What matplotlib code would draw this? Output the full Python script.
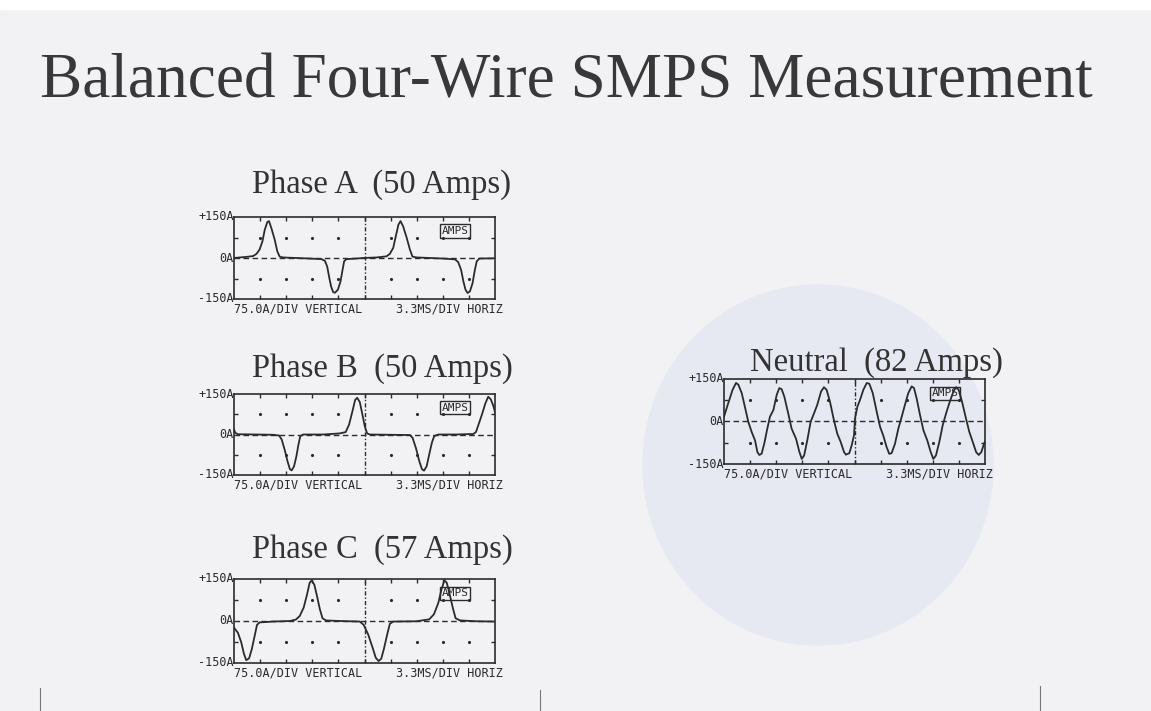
import matplotlib.pyplot as plt
from matplotlib.patches import Ellipse, Rectangle

W, H = 1151, 711

# time in scope divisions (3.3 ms/div), current in amps
t_a = [0.0, 0.22, 0.47, 0.73, 0.86, 0.98, 1.09, 1.18, 1.28, 1.34, 1.43, 1.56, 1.66, 1.75, 1.88,
       2.39, 2.9, 3.35, 3.48, 3.57, 3.64, 3.72, 3.8, 3.87, 3.98, 4.08, 4.16, 4.22, 4.31, 4.69,
       4.95, 5.46, 5.84, 5.97, 6.1, 6.2, 6.3, 6.38, 6.48, 6.61, 6.74, 6.84, 7.0, 7.51, 8.02,
       8.47, 8.59, 8.7, 8.79, 8.87, 8.95, 9.04, 9.14, 9.23, 9.3, 9.4, 10.0]
i_a = [0, 2, 4, 7, 15, 31, 61, 104, 132, 135, 110, 67, 24, 5, 2,
       0, -2, -4, -10, -31, -67, -104, -125, -127, -116, -86, -43, -12, -4, -2,
       0, 2, 6, 15, 37, 80, 122, 135, 116, 76, 31, 5, 2, 0, -2,
       -5, -15, -43, -86, -116, -128, -122, -92, -43, -12, -2, -1]

t_b = [0.0, 0.05, 0.15, 0.86, 1.5, 1.73, 1.83, 1.94, 2.05, 2.14, 2.21, 2.3, 2.39, 2.47, 2.54,
       2.65, 3.41, 4.05, 4.28, 4.41, 4.54, 4.64, 4.72, 4.82, 4.92, 5.01, 5.1, 5.2, 5.97, 6.74,
       6.84, 6.97, 7.1, 7.2, 7.28, 7.38, 7.48, 7.58, 7.67, 7.83, 8.53, 9.17, 9.27, 9.37, 9.5,
       9.63, 9.74, 9.84, 9.94, 10.0]
i_b = [19, 6, 1, 0, -1, -4, -19, -56, -99, -128, -133, -118, -81, -37, -6,
       0, 0, 4, 9, 37, 87, 128, 136, 120, 74, 31, 4, 0, -1, -2,
       -12, -50, -99, -128, -134, -118, -74, -31, -6, 0, 0, 2, 9, 37, 74,
       115, 140, 130, 105, 83]

t_c = [0.0, 0.15, 0.28, 0.38, 0.47, 0.58, 0.68, 0.79, 0.88, 0.98, 1.5, 2.14, 2.37, 2.52, 2.67,
       2.8, 2.9, 2.98, 3.08, 3.18, 3.29, 3.39, 3.52, 4.05, 4.82, 4.97, 5.14, 5.31, 5.43, 5.54,
       5.64, 5.74, 5.87, 5.97, 6.1, 6.99, 7.48, 7.66, 7.83, 7.95, 8.06, 8.15, 8.25, 8.38, 8.49,
       8.66, 9.3, 10.0]
i_c = [-24, -42, -77, -117, -140, -133, -101, -54, -14, -5, -2, 0, 5, 18, 48,
       95, 137, 145, 129, 89, 42, 10, 2, 0, -2, -14, -48, -95, -131, -143,
       -135, -101, -48, -10, -2, -1, 6, 24, 65, 113, 145, 137, 101, 48, 10,
       2, -1, -2]

t_n = [0.0, 0.16, 0.33, 0.46, 0.55, 0.68, 0.8, 0.93, 1.06, 1.19, 1.28, 1.35, 1.44, 1.54, 1.66,
       1.76, 1.89, 2.02, 2.12, 2.21, 2.31, 2.46, 2.59, 2.76, 2.89, 2.98, 3.07, 3.19, 3.32, 3.45,
       3.57, 3.72, 3.83, 3.93, 4.06, 4.21, 4.34, 4.47, 4.6, 4.67, 4.8, 4.89, 4.98, 5.02, 5.11,
       5.21, 5.34, 5.47, 5.57, 5.7, 5.85, 5.98, 6.1, 6.23, 6.33, 6.42, 6.55, 6.68, 6.81, 6.93,
       7.06, 7.19, 7.28, 7.38, 7.51, 7.64, 7.79, 7.92, 8.02, 8.12, 8.25, 8.38, 8.51, 8.63, 8.79,
       8.89, 8.99, 9.12, 9.27, 9.4, 9.53, 9.66, 9.76, 9.86, 9.94, 10.0]
i_n = [17, 64, 112, 136, 130, 100, 52, -1, -37, -67, -108, -118, -114, -79, -25,
       17, 40, 94, 118, 114, 88, 29, -25, -61, -108, -132, -120, -67, -1, 29,
       58, 106, 121, 112, 70, 5, -43, -72, -108, -117, -112, -85, -49, 11, 52,
       76, 112, 136, 133, 100, 35, -19, -49, -90, -114, -112, -79, -25, 17, 58,
       100, 124, 118, 82, 23, -31, -67, -108, -132, -120, -72, -13, 29, 64, 106,
       121, 112, 70, 11, -37, -72, -108, -118, -108, -85, -70]

titles = ['Phase A  (50 Amps)', 'Phase B  (50 Amps)', 'Phase C  (57 Amps)', 'Neutral  (82 Amps)']
traces = [(t_a, i_a), (t_b, i_b), (t_c, i_c), (t_n, i_n)]

# pixel boxes: left, top, right, bottom ; title: x, baseline
boxes = [(234, 217, 495, 299), (234, 394, 495, 475), (234, 579, 495, 663), (724, 379, 985, 464)]
title_pos = [(252, 193), (252, 377), (252, 558), (750, 371)]

ink = '#2b2b2b'
mono = 'DejaVu Sans Mono'

fig = plt.figure(figsize=(W / 100, H / 100), dpi=100)
fig.patch.set_facecolor('#f2f2f5')

# scan artefacts: white top margin, faint bleed-through disc, page marks at the bottom
fig.add_artist(Rectangle((0, 1 - 9 / H), 1, 9 / H, transform=fig.transFigure, color='white', zorder=0))
fig.add_artist(Ellipse((818 / W, 1 - 465 / H), 350 / W, 360 / H, transform=fig.transFigure,
                       color='#e6e8f2', zorder=0))
for mx, my in [(40, 688), (540, 690), (1040, 686)]:
    fig.add_artist(plt.Line2D([mx / W, mx / W], [0, 1 - my / H], transform=fig.transFigure,
                              color='#777777', lw=0.8))

fig.text(40 / W, 1 - 98 / H, 'Balanced Four-Wire SMPS Measurement', family='Liberation Serif',
         fontsize=45.5, color='#383838', va='baseline')

for (l, t, r, b), title, (tx, ty), (ts, cur) in zip(boxes, titles, title_pos, traces):
    ax = fig.add_axes([l / W, 1 - b / H, (r - l) / W, (b - t) / H])
    ax.set_facecolor('none')
    ax.set_xlim(0, 10)
    ax.set_ylim(-150, 150)
    for s in ax.spines.values():
        s.set_color(ink)
        s.set_linewidth(1.2)
    ax.set_xticks(range(1, 10))
    ax.set_yticks([-75, 75])
    ax.tick_params(direction='in', length=3, width=1, color=ink, top=True, right=True,
                   labelbottom=False, labelleft=False)

    # graticule dots, center and zero lines
    for x in range(1, 10):
        if x != 5:
            ax.plot([x, x], [-75, 75], ls='none', marker='.', ms=2.5, color=ink)
    ax.axhline(0, color=ink, lw=1, ls=(0, (4, 2.5)))
    ax.axvline(5, color=ink, lw=1, ls=(0, (3, 1.5, 1, 1.5)))

    ax.text(0.848, 0.83, 'AMPS', transform=ax.transAxes, family=mono, fontsize=8, color=ink,
            ha='center', va='center',
            bbox=dict(boxstyle='square,pad=0.15', fc='none', ec=ink, lw=1))

    ax.plot(ts, cur, color=ink, lw=1.3, zorder=5)

    for yv, lab in [(1, '+150A'), (0.5, '0A'), (0, '-150A')]:
        ax.text(0, yv, lab, transform=ax.transAxes, family=mono, fontsize=8.5, color=ink,
                ha='right', va='center')
    ax.text(0.0, -0.04, '75.0A/DIV VERTICAL', transform=ax.transAxes, family=mono,
            fontsize=8.5, color=ink, ha='left', va='top')
    ax.text(1.03, -0.04, '3.3MS/DIV HORIZ', transform=ax.transAxes, family=mono,
            fontsize=8.5, color=ink, ha='right', va='top')

    fig.text(tx / W, 1 - ty / H, title, family='Liberation Serif', fontsize=23.5,
             color='#333333', va='baseline')

fig.savefig('out.png', dpi=100, facecolor=fig.get_facecolor())
